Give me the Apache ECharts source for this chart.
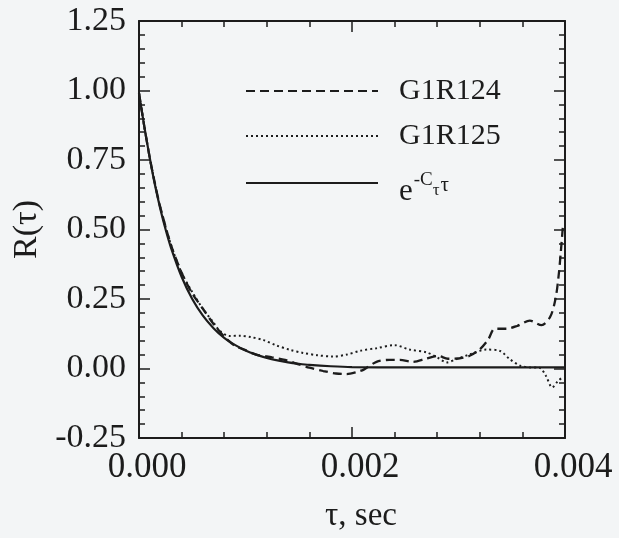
<!DOCTYPE html>
<html>
<head>
<meta charset="utf-8">
<script src="https://cdn.jsdelivr.net/npm/echarts@6/dist/echarts.min.js"></script>
<style>
html,body{margin:0;padding:0;background:#f3f5f6;}
#c{width:619px;height:538px;}
</style>
</head>
<body>
<div id="c"></div>
<script>
// Data
const g124Tau = [0, 0.00005, 0.0001, 0.00015, 0.0002, 0.0003, 0.0004, 0.0005, 0.0006, 0.0007, 0.0008, 0.0009, 0.001, 0.0011, 0.00125, 0.00137, 0.0015, 0.0016, 0.00173, 0.00185, 0.00195, 0.00205, 0.00211, 0.00223, 0.00235, 0.00245, 0.00257, 0.0027, 0.00281, 0.0029, 0.003, 0.0031, 0.0032, 0.00328, 0.00334, 0.00345, 0.00355, 0.00367, 0.00378, 0.00386, 0.00391, 0.00394, 0.00396, 0.00398];
const g124R   = [0.99, 0.87, 0.76, 0.665, 0.58, 0.445, 0.345, 0.27, 0.215, 0.16, 0.115, 0.082, 0.066, 0.05, 0.04, 0.031, 0.015, 0.003, -0.009, -0.018, -0.02, -0.012, -0.004, 0.024, 0.031, 0.031, 0.024, 0.036, 0.045, 0.035, 0.036, 0.045, 0.069, 0.105, 0.143, 0.143, 0.153, 0.172, 0.156, 0.185, 0.249, 0.333, 0.416, 0.51];

const g125Tau = [0, 0.00005, 0.0001, 0.00015, 0.0002, 0.0003, 0.0004, 0.0005, 0.0006, 0.0007, 0.00076, 0.00085, 0.00095, 0.00105, 0.00117, 0.00129, 0.00142, 0.00154, 0.00167, 0.00182, 0.00195, 0.00208, 0.00223, 0.0024, 0.00254, 0.0027, 0.0028, 0.00289, 0.00298, 0.00311, 0.00326, 0.00339, 0.00348, 0.00358, 0.00367, 0.00376, 0.00382, 0.00388, 0.00393, 0.00398];
const g125R   = [0.99, 0.87, 0.76, 0.665, 0.58, 0.445, 0.345, 0.275, 0.215, 0.165, 0.135, 0.117, 0.118, 0.113, 0.102, 0.083, 0.067, 0.056, 0.048, 0.043, 0.05, 0.064, 0.073, 0.084, 0.068, 0.058, 0.04, 0.022, 0.034, 0.051, 0.068, 0.063, 0.034, 0.01, 0.004, 0.003, -0.026, -0.068, -0.047, -0.03];

const fitTau = [0, 0.00005, 0.0001, 0.00015, 0.0002, 0.00025, 0.0003, 0.0004, 0.0005, 0.0006, 0.0007, 0.0008, 0.0009, 0.001, 0.0011, 0.0012, 0.0013, 0.0014, 0.0015, 0.0016, 0.0018, 0.002, 0.0025, 0.003, 0.0035, 0.004];
const fitR   = [0.99, 0.87, 0.76, 0.66, 0.575, 0.5, 0.435, 0.33, 0.25, 0.19, 0.145, 0.11, 0.085, 0.065, 0.05, 0.038, 0.029, 0.022, 0.017, 0.013, 0.008, 0.005, 0.004, 0.004, 0.004, 0.004];

const xTicks = [0, 0.002, 0.004];
const yTicks = [-0.25, 0, 0.25, 0.5, 0.75, 1.0, 1.25];
const seriesNames = ['G1R124', 'G1R125', 'fit'];

const zip = (a, b) => a.map((v, i) => [v, b[i]]);
const FONT = "'Liberation Serif','DejaVu Serif',serif";
const INK = '#1c1c1c';

const axisCommon = {
  axisLine: {show: true, onZero: false, lineStyle: {color: INK, width: 2}},
  axisTick: {show: true, inside: true, length: 11, lineStyle: {color: INK, width: 1.5}},
  minorTick: {show: true, splitNumber: 5, length: 6, lineStyle: {color: INK, width: 1.5}},
  splitLine: {show: false}
};
const noMark = {color: 'rgba(0,0,0,0)', borderColor: 'rgba(0,0,0,0)', borderWidth: 0, opacity: 0};
const legendText = {fontFamily: FONT, fontSize: 30, lineHeight: 30, color: INK, padding: [0, 0, 0, 16]};

const chart = echarts.init(document.getElementById('c'));
chart.setOption({
  backgroundColor: '#f3f5f6',
  animation: false,
  grid: {left: 139, right: 54, top: 21, bottom: 99, containLabel: false},
  xAxis: [
    Object.assign({}, axisCommon, {
      type: 'value', position: 'bottom', min: xTicks[0], max: xTicks[xTicks.length - 1], interval: xTicks[1] - xTicks[0],
      axisLabel: {show: true, margin: 16, fontFamily: FONT, fontSize: 35, lineHeight: 28, color: INK, padding: [0, 0, 0, 16],
        hideOverlap: false, formatter: v => v.toFixed(3)},
      name: 'τ, sec', nameLocation: 'middle', nameGap: 62,
      nameTextStyle: {fontFamily: FONT, fontSize: 33, color: INK, padding: [0, 0, 0, 18]}
    }),
    Object.assign({}, axisCommon, {
      type: 'value', position: 'top', min: xTicks[0], max: xTicks[xTicks.length - 1], interval: xTicks[1] - xTicks[0],
      axisLabel: {show: false}
    })
  ],
  yAxis: [
    Object.assign({}, axisCommon, {
      type: 'value', position: 'left', min: yTicks[0], max: yTicks[yTicks.length - 1], interval: yTicks[1] - yTicks[0],
      axisLabel: {show: true, margin: 13, fontFamily: FONT, fontSize: 34, lineHeight: 26, color: INK,
        hideOverlap: false, formatter: v => v.toFixed(2)},
      name: 'R(τ)', nameLocation: 'middle', nameGap: 95,
      nameTextStyle: {fontFamily: FONT, fontSize: 34, color: INK}
    }),
    Object.assign({}, axisCommon, {
      type: 'value', position: 'right', min: yTicks[0], max: yTicks[yTicks.length - 1], interval: yTicks[1] - yTicks[0],
      axisLabel: {show: false}
    })
  ],
  legend: [
    {data: [seriesNames[0]], left: 245, top: 76, padding: 0, itemWidth: 132, itemHeight: 14,
      itemStyle: noMark, textStyle: legendText},
    {data: [seriesNames[1]], left: 245, top: 121, padding: 0, itemWidth: 132, itemHeight: 14,
      itemStyle: noMark, textStyle: legendText},
    {data: [seriesNames[2]], left: 245, top: 170, padding: 0, itemWidth: 132, itemHeight: 14,
      itemStyle: noMark,
      formatter: () => '{e|e}{sup|-C}{sub|τ}{t|τ}',
      textStyle: {fontFamily: FONT, color: INK, padding: [5, 0, 0, 16],
        rich: {
          e: {fontFamily: FONT, fontSize: 31, lineHeight: 31, verticalAlign: 'top', padding: [6, 0, 0, 0], color: INK},
          sup: {fontFamily: FONT, fontSize: 19, lineHeight: 19, verticalAlign: 'top', padding: [1, 0, 0, 1], color: INK},
          sub: {fontFamily: FONT, fontSize: 17, lineHeight: 17, verticalAlign: 'top', padding: [12, 0, 0, 0], color: INK},
          t: {fontFamily: FONT, fontSize: 21, lineHeight: 21, verticalAlign: 'top', padding: [5, 0, 0, 1], color: INK}
        }}}
  ],
  series: [
    {name: seriesNames[0], type: 'line', data: zip(g124Tau, g124R), symbol: 'none', smooth: 0.3,
      lineStyle: {color: INK, width: 2.3, type: [9, 5]}, itemStyle: {color: INK}},
    {name: seriesNames[1], type: 'line', data: zip(g125Tau, g125R), symbol: 'none', smooth: 0.3,
      lineStyle: {color: INK, width: 2, type: [2, 3]}, itemStyle: {color: INK}},
    {name: seriesNames[2], type: 'line', data: zip(fitTau, fitR), symbol: 'none', smooth: 0.3,
      lineStyle: {color: INK, width: 2.2, type: 'solid'}, itemStyle: {color: INK}}
  ]
});
</script>
</body>
</html>
